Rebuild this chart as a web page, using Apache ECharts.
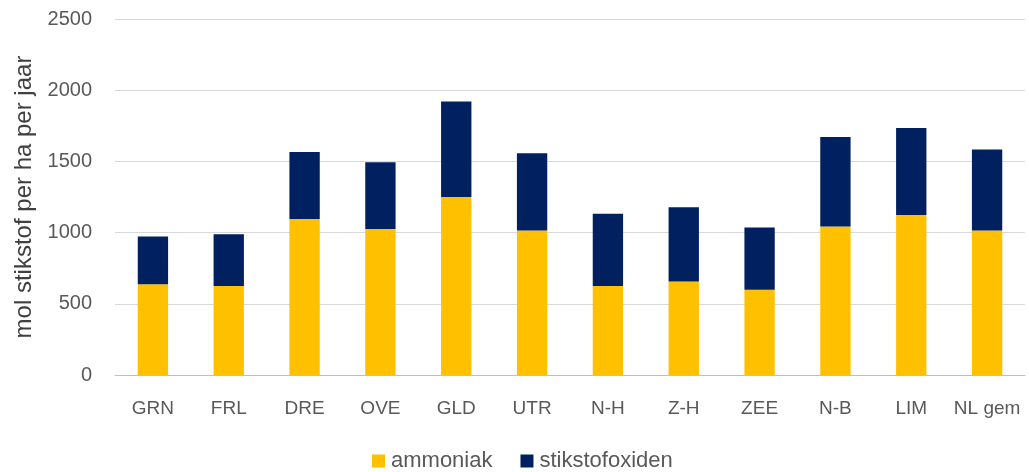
<!DOCTYPE html>
<html>
<head>
<meta charset="utf-8">
<script src="https://cdn.jsdelivr.net/npm/echarts@6/dist/echarts.min.js"></script>
<style>
  html, body { margin: 0; padding: 0; background: #fff; }
  #chart { width: 1029px; height: 472px; }
</style>
</head>
<body>
<div id="chart"></div>
<script>
// provincies
const regions = ["GRN", "FRL", "DRE", "OVE", "GLD", "UTR", "N-H", "Z-H", "ZEE", "N-B", "LIM", "NL gem"];
// mol stikstof per ha per jaar
const ammoniak = [637, 625, 1096, 1025, 1250, 1014, 625, 656, 599, 1042, 1124, 1014];
const stikstofoxiden = [335, 363, 470, 469, 670, 543, 508, 522, 436, 630, 611, 569];
const yTicks = [0, 500, 1000, 1500, 2000, 2500];

const font = "Liberation Sans";
const chart = echarts.init(document.getElementById("chart"));
chart.setOption({
  animation: false,
  textStyle: { fontFamily: font },
  grid: { left: 115, right: 4, top: 19, bottom: 97 },
  legend: {
    top: 445,
    left: 367,
    itemWidth: 13,
    itemHeight: 13,
    itemGap: 28,
    icon: "rect",
    textStyle: { color: "#595959", fontSize: 22, fontFamily: font, padding: [0, 0, 0, 1] },
    data: ["ammoniak", "stikstofoxiden"]
  },
  xAxis: {
    type: "category",
    data: regions,
    axisTick: { show: false },
    axisLine: { lineStyle: { color: "#bfbfbf", width: 1 } },
    axisLabel: { color: "#595959", fontSize: 19, margin: 24, interval: 0 }
  },
  yAxis: {
    type: "value",
    min: yTicks[0],
    max: yTicks[yTicks.length - 1],
    interval: 500,
    name: "mol stikstof per ha per jaar",
    nameLocation: "middle",
    nameGap: 78,
    nameTextStyle: { color: "#404040", fontSize: 24, fontFamily: font },
    axisLine: { show: false },
    axisTick: { show: false },
    axisLabel: { color: "#595959", fontSize: 20, margin: 23, formatter: (v) => String(v) },
    splitLine: { lineStyle: { color: "#d9d9d9", width: 1 } }
  },
  series: [
    {
      name: "ammoniak",
      type: "bar",
      stack: "n",
      barWidth: "40%",
      data: ammoniak,
      itemStyle: { color: "#FFC000" }
    },
    {
      name: "stikstofoxiden",
      type: "bar",
      stack: "n",
      barWidth: "40%",
      data: stikstofoxiden,
      itemStyle: { color: "#002060" }
    }
  ]
});
</script>
</body>
</html>
